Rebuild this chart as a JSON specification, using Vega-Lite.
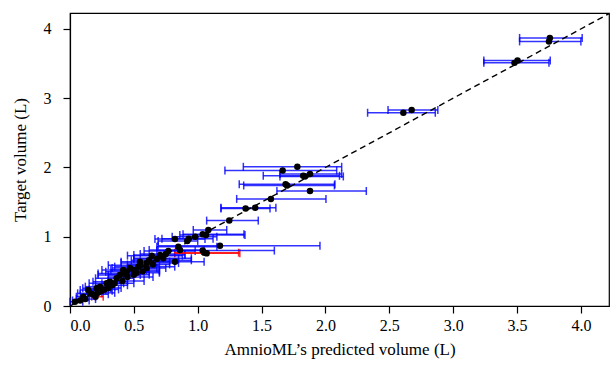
{
  "$schema": "https://vega.github.io/schema/vega-lite/v6.json",
  "width": 539,
  "height": 293,
  "autosize": {"type": "none"},
  "padding": {"left": 70, "top": 13, "right": 1, "bottom": 65},
  "config": {
    "font": "Liberation Serif",
    "view": {"stroke": "black", "strokeWidth": 1.2},
    "axis": {
      "grid": false,
      "domainColor": "black",
      "domainWidth": 1.2,
      "tickColor": "black",
      "tickWidth": 1.2,
      "tickSize": 7,
      "labelFontSize": 16,
      "labelColor": "black",
      "titleFontSize": 17,
      "titleFontWeight": "normal",
      "titleColor": "black"
    }
  },
  "datasets": {
    "pts": [
      {"x": 3.757, "y": 3.87, "lo": 3.52, "hi": 4.01, "c": "b"},
      {"x": 3.75, "y": 3.82, "lo": 3.52, "hi": 4.0, "c": "b"},
      {"x": 3.504, "y": 3.545, "lo": 3.24, "hi": 3.76, "c": "b"},
      {"x": 3.48, "y": 3.51, "lo": 3.24, "hi": 3.75, "c": "b"},
      {"x": 2.675, "y": 2.83, "lo": 2.49, "hi": 2.88, "c": "b"},
      {"x": 2.61, "y": 2.79, "lo": 2.33, "hi": 2.86, "c": "b"},
      {"x": 1.78, "y": 2.01, "lo": 1.357, "hi": 2.127, "c": "b"},
      {"x": 1.665, "y": 1.955, "lo": 1.213, "hi": 2.088, "c": "b"},
      {"x": 1.826, "y": 1.88, "lo": 1.513, "hi": 2.11, "c": "b"},
      {"x": 1.879, "y": 1.907, "lo": 1.644, "hi": 2.127, "c": "b"},
      {"x": 1.84, "y": 1.87, "lo": 1.644, "hi": 2.14, "c": "b"},
      {"x": 1.688, "y": 1.758, "lo": 1.325, "hi": 2.074, "c": "b"},
      {"x": 1.7, "y": 1.74, "lo": 1.36, "hi": 2.07, "c": "b"},
      {"x": 1.879, "y": 1.66, "lo": 1.62, "hi": 2.32, "c": "b"},
      {"x": 1.573, "y": 1.546, "lo": 1.305, "hi": 2.004, "c": "b"},
      {"x": 1.375, "y": 1.406, "lo": 1.182, "hi": 1.566, "c": "b"},
      {"x": 1.45, "y": 1.42, "lo": 1.182, "hi": 1.612, "c": "b"},
      {"x": 1.247, "y": 1.233, "lo": 1.07, "hi": 1.474, "c": "b"},
      {"x": 1.083, "y": 1.098, "lo": 0.965, "hi": 1.227, "c": "b"},
      {"x": 1.039, "y": 1.036, "lo": 0.885, "hi": 1.362, "c": "b"},
      {"x": 1.065, "y": 1.026, "lo": 0.86, "hi": 1.37, "c": "b"},
      {"x": 1.174, "y": 0.87, "lo": 0.69, "hi": 1.957, "c": "b"},
      {"x": 1.039, "y": 0.8, "lo": 0.68, "hi": 1.6, "c": "b"},
      {"x": 0.822, "y": 0.968, "lo": 0.665, "hi": 1.057, "c": "b"},
      {"x": 0.918, "y": 0.94, "lo": 0.69, "hi": 1.0, "c": "b"},
      {"x": 0.848, "y": 0.857, "lo": 0.68, "hi": 1.15, "c": "b"},
      {"x": 0.861, "y": 0.81, "lo": 0.62, "hi": 1.05, "c": "b"},
      {"x": 0.822, "y": 0.64, "lo": 0.6, "hi": 1.05, "c": "b"},
      {"x": 0.77, "y": 0.795, "lo": 0.58, "hi": 0.98, "c": "b"},
      {"x": 0.73, "y": 0.69, "lo": 0.5, "hi": 0.95, "c": "b"},
      {"x": 0.64, "y": 0.727, "lo": 0.45, "hi": 0.88, "c": "b"},
      {"x": 0.705, "y": 0.737, "lo": 0.5, "hi": 0.9, "c": "b"},
      {"x": 0.548, "y": 0.64, "lo": 0.4, "hi": 0.78, "c": "b"},
      {"x": 0.535, "y": 0.568, "lo": 0.35, "hi": 0.82, "c": "b"},
      {"x": 0.55, "y": 0.59, "lo": 0.3, "hi": 0.7, "c": "b"},
      {"x": 0.496, "y": 0.52, "lo": 0.32, "hi": 0.7, "c": "b"},
      {"x": 0.444, "y": 0.496, "lo": 0.28, "hi": 0.62, "c": "b"},
      {"x": 0.417, "y": 0.52, "lo": 0.25, "hi": 0.6, "c": "b"},
      {"x": 0.39, "y": 0.448, "lo": 0.22, "hi": 0.55, "c": "b"},
      {"x": 0.365, "y": 0.4, "lo": 0.2, "hi": 0.5, "c": "b"},
      {"x": 0.313, "y": 0.351, "lo": 0.18, "hi": 0.45, "c": "b"},
      {"x": 0.287, "y": 0.328, "lo": 0.15, "hi": 0.42, "c": "b"},
      {"x": 0.235, "y": 0.279, "lo": 0.12, "hi": 0.35, "c": "b"},
      {"x": 0.209, "y": 0.256, "lo": 0.1, "hi": 0.32, "c": "b"},
      {"x": 0.143, "y": 0.231, "lo": 0.08, "hi": 0.28, "c": "b"},
      {"x": 0.157, "y": 0.183, "lo": 0.06, "hi": 0.25, "c": "b"},
      {"x": 0.104, "y": 0.134, "lo": 0.05, "hi": 0.2, "c": "b"},
      {"x": 0.039, "y": 0.062, "lo": 0.0, "hi": 0.1, "c": "b"},
      {"x": 0.6, "y": 0.62, "lo": 0.4, "hi": 0.85, "c": "b"},
      {"x": 0.65, "y": 0.6, "lo": 0.45, "hi": 0.78, "c": "b"},
      {"x": 0.5, "y": 0.45, "lo": 0.3, "hi": 0.62, "c": "b"},
      {"x": 0.45, "y": 0.42, "lo": 0.3, "hi": 0.65, "c": "b"},
      {"x": 0.33, "y": 0.3, "lo": 0.2, "hi": 0.45, "c": "b"},
      {"x": 0.27, "y": 0.24, "lo": 0.15, "hi": 0.38, "c": "b"},
      {"x": 0.25, "y": 0.22, "lo": 0.13, "hi": 0.33, "c": "b"},
      {"x": 0.18, "y": 0.17, "lo": 0.08, "hi": 0.3, "c": "b"},
      {"x": 0.12, "y": 0.1, "lo": 0.05, "hi": 0.2, "c": "b"},
      {"x": 0.08, "y": 0.08, "lo": 0.02, "hi": 0.15, "c": "b"},
      {"x": 0.57, "y": 0.5, "lo": 0.42, "hi": 0.7, "c": "b"},
      {"x": 0.62, "y": 0.66, "lo": 0.48, "hi": 0.95, "c": "b"},
      {"x": 0.75, "y": 0.75, "lo": 0.55, "hi": 0.9, "c": "b"},
      {"x": 0.93, "y": 0.97, "lo": 0.72, "hi": 1.12, "c": "b"},
      {"x": 0.98, "y": 1.0, "lo": 0.8, "hi": 1.15, "c": "b"},
      {"x": 0.41, "y": 0.36, "lo": 0.3, "hi": 0.58, "c": "b"},
      {"x": 0.35, "y": 0.33, "lo": 0.25, "hi": 0.5, "c": "b"},
      {"x": 0.22, "y": 0.19, "lo": 0.14, "hi": 0.35, "c": "b"},
      {"x": 0.6, "y": 0.55, "lo": 0.45, "hi": 0.75, "c": "b"},
      {"x": 0.68, "y": 0.68, "lo": 0.5, "hi": 0.85, "c": "b"},
      {"x": 0.47, "y": 0.55, "lo": 0.33, "hi": 0.68, "c": "b"},
      {"x": 0.3, "y": 0.26, "lo": 0.2, "hi": 0.4, "c": "b"},
      {"x": 0.43, "y": 0.47, "lo": 0.22, "hi": 0.58, "c": "b"},
      {"x": 0.52, "y": 0.48, "lo": 0.4, "hi": 0.7, "c": "b"},
      {"x": 1.07, "y": 0.76, "lo": 0.82, "hi": 1.33, "c": "r"},
      {"x": 1.05, "y": 0.77, "lo": 0.82, "hi": 1.32, "c": "r"},
      {"x": 0.2, "y": 0.134, "lo": 0.17, "hi": 0.26, "c": "r"}
    ],
    "diag": [
      {"x": 0, "y": 0},
      {"x": 4.22, "y": 4.22}
    ]
  },
  "layer": [
    {
      "data": {"name": "pts"},
      "mark": {"type": "errorbar", "thickness": 1.5, "opacity": 0.8, "ticks": {"size": 8}},
      "encoding": {
        "x": {
          "field": "lo", "type": "quantitative",
          "scale": {"domain": [0, 4.22], "nice": false, "zero": false},
          "axis": {"values": [0, 0.5, 1, 1.5, 2, 2.5, 3, 3.5, 4], "format": ".1f", "labelPadding": 4, "titlePadding": 8},
          "title": "AmnioML’s predicted volume (L)"
        },
        "x2": {"field": "hi"},
        "y": {
          "field": "y", "type": "quantitative",
          "scale": {"domain": [0, 4.23], "nice": false, "zero": false},
          "axis": {"values": [0, 1, 2, 3, 4], "format": "d", "labelPadding": 12, "titlePadding": 14},
          "title": "Target volume (L)"
        },
        "color": {
          "field": "c", "type": "nominal",
          "scale": {"domain": ["b", "r"], "range": ["#0000ff", "#ff0000"]},
          "legend": null
        }
      }
    },
    {
      "data": {"name": "diag"},
      "mark": {"type": "line", "color": "black", "strokeDash": [6, 4], "strokeWidth": 1.4, "clip": true},
      "encoding": {
        "x": {"field": "x", "type": "quantitative"},
        "y": {"field": "y", "type": "quantitative"}
      }
    },
    {
      "data": {"name": "pts"},
      "mark": {"type": "circle", "color": "black", "opacity": 1, "size": 42},
      "encoding": {
        "x": {"field": "x", "type": "quantitative"},
        "y": {"field": "y", "type": "quantitative"}
      }
    }
  ]
}
